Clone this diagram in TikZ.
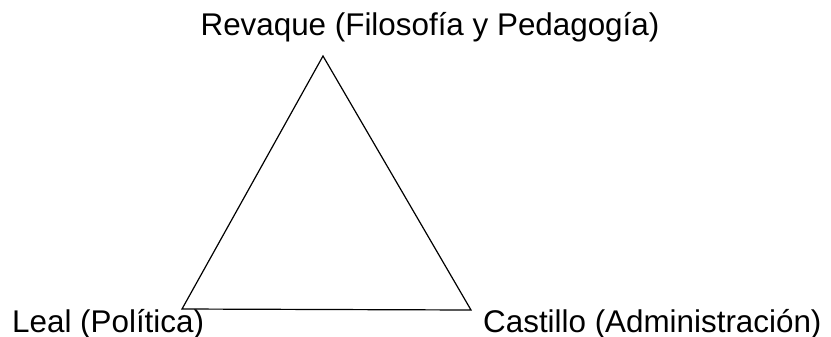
\documentclass[tikz,border=0pt]{standalone}
\usepackage{fontspec}
\setmainfont{Liberation Sans}
\begin{document}
\begin{tikzpicture}[x=1bp,y=-1bp,
  lbl/.style={font=\fontsize{31.5}{37}\selectfont, inner sep=0pt, text=black},
  edge/.style={draw=black, line width=1.2bp, line join=miter}]
\useasboundingbox (0,0) rectangle (831,336);
\coordinate (top) at (323,56);
\coordinate (left) at (182,309);
\coordinate (right) at (471,310);
\draw[edge] (top) -- (left) -- (right) -- cycle;
\node[lbl, anchor=base] (rev) at (430,35) {Revaque (Filosofía y Pedagogía)};
\node[lbl, anchor=base west] (leal) at (12,332) {Leal (Política)};
\node[lbl, anchor=base west] (cas) at (483,332) {Castillo (Administración)};
\end{tikzpicture}
\end{document}
